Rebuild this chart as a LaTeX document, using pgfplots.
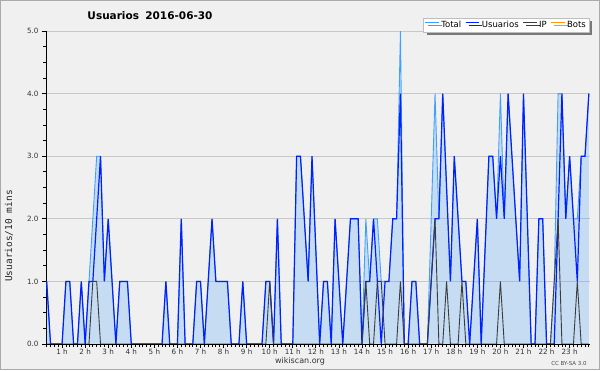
\documentclass[border=0pt]{standalone}
\usepackage{pgfplots}
\pgfplotsset{compat=1.18}
\usepackage{pgfplotstable}
\usepackage{fontspec}
\setmainfont{DejaVu Sans}
\newfontfamily\monofont{DejaVu Sans Mono}
\usetikzlibrary{shadows}
\definecolor{bgc}{RGB}{240,240,240}
\definecolor{framec}{RGB}{170,170,170}
\definecolor{gridc}{RGB}{200,200,200}
\definecolor{totalc}{RGB}{64,160,255}
\definecolor{userc}{RGB}{0,32,255}
\definecolor{ipc}{RGB}{60,60,60}
\definecolor{botc}{RGB}{255,153,0}
\definecolor{legc}{RGB}{190,190,190}
\definecolor{shadc}{RGB}{120,120,120}

\pgfplotstableread{
i T U P B
2 1 1 0 0
3 0 0 0 0
4 0 0 0 0
5 0 0 0 0
6 0 0 0 0
7 1 1 0 0
8 1 1 0 0
9 0 0 0 0
10 0 0 0 0
11 1 1 0 0
12 0 0 0 0
13 1 1 0 0
14 2 1 1 0
15 3 2 1 0
16 3 3 0 0
17 1 1 0 0
18 2 2 0 0
19 1 1 0 0
20 0 0 0 0
21 1 1 0 0
22 1 1 0 0
23 1 1 0 0
24 0 0 0 0
25 0 0 0 0
26 0 0 0 0
27 0 0 0 0
28 0 0 0 0
29 0 0 0 0
30 0 0 0 0
31 0 0 0 0
32 0 0 0 0
33 1 1 0 0
34 0 0 0 0
35 0 0 0 0
36 0 0 0 0
37 2 2 0 0
38 0 0 0 0
39 0 0 0 0
40 0 0 0 0
41 1 1 0 0
42 1 1 0 0
43 0 0 0 0
44 1 1 0 0
45 2 2 0 0
46 1 1 0 0
47 1 1 0 0
48 1 1 0 0
49 1 1 0 0
50 0 0 0 0
51 0 0 0 0
52 0 0 0 0
53 1 1 0 0
54 0 0 0 0
55 0 0 0 0
56 0 0 0 0
57 0 0 0 0
58 0 0 0 0
59 1 1 0 0
60 1 1 1 0
61 0 0 0 0
62 2 2 0 0
63 0 0 0 0
64 0 0 0 0
65 0 0 0 0
66 0 0 0 0
67 3 3 0 0
68 3 3 0 0
69 2 2 0 0
70 1 1 0 0
71 3 3 0 0
72 1.5 1.5 0 0
73 0 0 0 0
74 1 1 0 0
75 1 1 0 0
76 0 0 0 0
77 2 2 0 0
78 1 1 0 0
79 0 0 0 0
80 1 1 0 0
81 2 2 0 0
82 2 2 0 0
83 2 2 0 0
84 0 0 0 0
85 2 1 1 0
86 1 1 0 0
87 2 2 0 0
88 2 1 1 0
89 1 0 1 0
90 1 1 0 0
91 1 1 0 0
92 2 2 0 0
93 2 2 0 0
94 5 4 1 0
95 0 0 0 0
96 0 0 0 0
97 1 1 0 0
98 1 1 0 0
99 0 0 0 0
100 0 0 0 0
101 0 0 0 0
102 2 1 1 0
103 4 2 2 0
104 2 2 0 0
105 4 4 0 0
106 2.5 2.5 1 0
107 1 1 0 0
108 3 3 0 0
109 2 2 0 0
110 1 1 1 0
111 1 1 0 0
112 0 0 0 0
113 1 1 0 0
114 2 2 0 0
115 0 0 0 0
116 1.5 1.5 0 0
117 3 3 0 0
118 3 3 0 0
119 2 2 0 0
120 4 3 1 0
121 2 2 0 0
122 4 4 0 0
123 3 3 0 0
124 2 2 0 0
125 1 1 0 0
126 4 4 0 0
127 2 2 0 0
128 0 0 0 0
129 0 0 0 0
130 2 2 0 0
131 2 2 0 0
132 0 0 0 0
133 0 0 0 0
134 1 0 1 0
135 4 2 2 0
136 4 4 0 0
137 2 2 0 0
138 3 3 0 0
139 2 2 0 0
140 2 1 1 0
141 3 3 0 0
142 3 3 0 0
143 4 4 0 0
}\datatab

\begin{document}
\begin{tikzpicture}
\fill[bgc] (0,0) rectangle (600pt,370pt);
\draw[framec, line width=1pt] (0.5pt,0.5pt) rectangle (599.5pt,369.5pt);
\useasboundingbox (0,0) rectangle (600pt,370pt);
\begin{axis}[
  name=ax,
  at={(46pt,26pt)}, anchor=south west,
  scale only axis, width=544pt, height=313pt,
  xmin=1.82, xmax=143.3, ymin=0, ymax=5,
  axis lines*=left,
  axis line style={line width=1pt, black},
  tick align=outside,
  xtick={6,12,...,138},
  xticklabels={1 h,2 h,3 h,4 h,5 h,6 h,7 h,8 h,9 h,10 h,11 h,12 h,13 h,14 h,15 h,16 h,17 h,18 h,19 h,20 h,21 h,22 h,23 h},
  minor xtick={2,3,...,143},
  ytick={0,1,2,3,4,5},
  yticklabels={0.0,1.0,2.0,3.0,4.0,5.0},
  minor y tick num=3,
  major tick length=4pt, minor tick length=3pt,
  tick style={black, line width=0.8pt},
  ymajorgrids, grid style={gridc, line width=1pt},
  ticklabel style={font=\fontsize{7.2}{8}\selectfont, text=black!80},
  xticklabel style={yshift=2.8pt},
  /pgf/number format/assume math mode=true,
  legend columns=4,
  legend image code/.code={\draw[#1, line width=0.9pt] (0pt,2.6pt) -- (12pt,2.6pt); \path (0pt,2.6pt) -- (13.5pt,2.6pt);},
  legend style={at={(0.9991,1.0431)}, anchor=north east,
    draw=legc, fill=white, line width=0.8pt,
    font=\fontsize{8.5}{10}\selectfont, inner sep=1.2pt,
    drop shadow={shadow xshift=3pt, shadow yshift=-3pt, fill=shadc, opacity=1},
    /tikz/every even column/.append style={column sep=2pt}},
]
\addplot[draw=none, fill=totalc, fill opacity=0.24, forget plot] table[x=i,y=T]{\datatab} \closedcycle;
\addplot[totalc, line width=0.9pt] table[x=i,y=T]{\datatab};
\addlegendentry{Total}
\addplot[userc, line width=1.2pt] table[x=i,y=U]{\datatab};
\addlegendentry{Usuarios}
\addplot[ipc, line width=0.9pt] table[x=i,y=P]{\datatab};
\addlegendentry{IP}
\addplot[botc, line width=0.9pt] table[x=i,y=B]{\datatab};
\addlegendentry{Bots}
\end{axis}
\draw[black, line width=1pt] (ax.south west) -- (ax.south east);
\node[font=\bfseries\fontsize{10.5}{12}\selectfont] at (150pt,354pt) {Usuarios\hspace{0.6em}2016-06-30};
\node[rotate=90, font=\monofont\fontsize{9.5}{10}\selectfont, text=black!85] at (9pt,134pt) {Usuarios/10 mins};
\node[font=\fontsize{8}{9}\selectfont, text=black!80] at (300pt,8.5pt) {wikiscan.org};
\node[font=\fontsize{5.5}{6}\selectfont, text=black!70] at (569pt,7pt) {CC BY-SA 3.0};
\end{tikzpicture}
\end{document}
